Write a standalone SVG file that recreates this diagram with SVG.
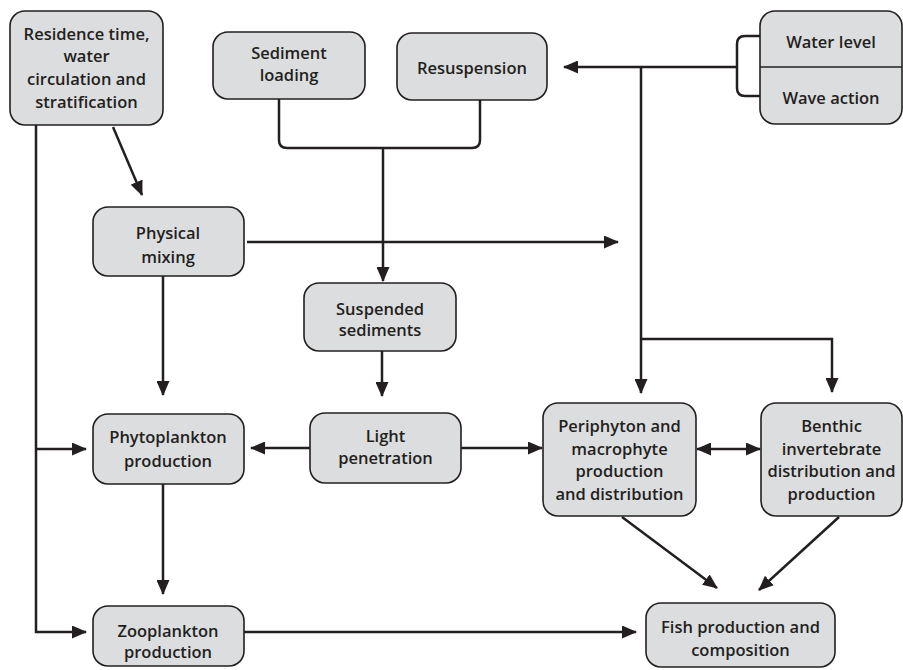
<svg xmlns="http://www.w3.org/2000/svg" width="903" height="670" viewBox="0 0 903 670">
<style>
.box{fill:#dcdddf;stroke:#231f20;stroke-width:1.6}
.t{font-family:"Open Sans","Liberation Sans",sans-serif;font-weight:600;font-size:16.5px;fill:#231f20;text-anchor:middle}
.c{fill:none;stroke:#231f20;stroke-width:2.5}
.a{marker-end:url(#ah)}
</style>
<defs>
<marker id="ah" markerUnits="userSpaceOnUse" markerWidth="15" markerHeight="13" refX="14" refY="6.5" orient="auto">
<path d="M0,0 L15,6.5 L0,13 z" fill="#231f20"/>
</marker>
<marker id="as" markerUnits="userSpaceOnUse" markerWidth="15" markerHeight="13" refX="1" refY="6.5" orient="auto">
<path d="M15,0 L0,6.5 L15,13 z" fill="#231f20"/>
</marker>
</defs>
<rect width="903" height="670" fill="#ffffff"/>
<g id="connectors">
<path class="c a" d="M36,125 V632 H86"/>
<path class="c a" d="M36,449 H86"/>
<path class="c a" d="M113,127 L142,195"/>
<path class="c" d="M279,99 V140 Q279,148 287,148 H472 Q480,148 480,140 V100"/>
<path class="c a" d="M383,148 V281"/>
<path class="c a" d="M247,242 H618"/>
<path class="c a" d="M163,276 V395"/>
<path class="c a" d="M382,351 V396"/>
<path class="c a" d="M310,448 H251"/>
<path class="c a" d="M461,448 H542"/>
<path class="c" d="M760,36 H745 Q737,36 737,44 V88 Q737,96 745,96 H760"/>
<path class="c a" d="M737,67 H564"/>
<path class="c a" d="M641,67 V393"/>
<path class="c a" d="M641,339 H832 V392"/>
<path class="c" d="M697,449 H760" marker-start="url(#as)" marker-end="url(#ah)"/>
<path class="c a" d="M622,517 L717,588"/>
<path class="c a" d="M839,517 L759,590"/>
<path class="c a" d="M163,484 V594"/>
<path class="c a" d="M244,632 H636"/>
</g>
<g id="residence">
<rect class="box" x="10" y="11" width="153" height="114" rx="15"/>
<text class="t" x="86.5" y="39.5">Residence time,</text>
<text class="t" x="86.5" y="62">water</text>
<text class="t" x="86.5" y="85">circulation and</text>
<text class="t" x="86.5" y="107.5">stratification</text>
</g>
<g id="sediment-loading">
<rect class="box" x="213" y="32" width="152" height="67" rx="15"/>
<text class="t" x="289" y="59">Sediment</text>
<text class="t" x="289" y="81">loading</text>
</g>
<g id="resuspension">
<rect class="box" x="397" y="33" width="150" height="67" rx="15"/>
<text class="t" x="472" y="74">Resuspension</text>
</g>
<g id="water-wave">
<rect class="box" x="760" y="11" width="142" height="113" rx="15"/>
<line x1="760" y1="67" x2="902" y2="67" stroke="#231f20" stroke-width="1.3"/>
<text class="t" x="831" y="48">Water level</text>
<text class="t" x="831" y="104">Wave action</text>
</g>
<g id="physical-mixing">
<rect class="box" x="93" y="207" width="151" height="69" rx="15"/>
<text class="t" x="168" y="239">Physical</text>
<text class="t" x="168" y="263">mixing</text>
</g>
<g id="suspended-sediments">
<rect class="box" x="304" y="283" width="152" height="68" rx="15"/>
<text class="t" x="380" y="315">Suspended</text>
<text class="t" x="380" y="336">sediments</text>
</g>
<g id="phytoplankton">
<rect class="box" x="93" y="414" width="151" height="70" rx="15"/>
<text class="t" x="168" y="443">Phytoplankton</text>
<text class="t" x="168" y="467">production</text>
</g>
<g id="light-penetration">
<rect class="box" x="310" y="413" width="151" height="70" rx="15"/>
<text class="t" x="385.5" y="442">Light</text>
<text class="t" x="385.5" y="464">penetration</text>
</g>
<g id="periphyton">
<rect class="box" x="543" y="403" width="153" height="113" rx="15"/>
<text class="t" x="619.5" y="432">Periphyton and</text>
<text class="t" x="619.5" y="455">macrophyte</text>
<text class="t" x="619.5" y="477">production</text>
<text class="t" x="619.5" y="500">and distribution</text>
</g>
<g id="benthic">
<rect class="box" x="761" y="403" width="141" height="113" rx="15"/>
<text class="t" x="831.5" y="432">Benthic</text>
<text class="t" x="831.5" y="455">invertebrate</text>
<text class="t" x="831.5" y="477">distribution and</text>
<text class="t" x="831.5" y="500">production</text>
</g>
<g id="zooplankton">
<rect class="box" x="93" y="606" width="151" height="60" rx="15"/>
<text class="t" x="168" y="637">Zooplankton</text>
<text class="t" x="168" y="658">production</text>
</g>
<g id="fish">
<rect class="box" x="646" y="603" width="189" height="64" rx="15"/>
<text class="t" x="740.5" y="633">Fish production and</text>
<text class="t" x="740.5" y="656">composition</text>
</g>
</svg>
